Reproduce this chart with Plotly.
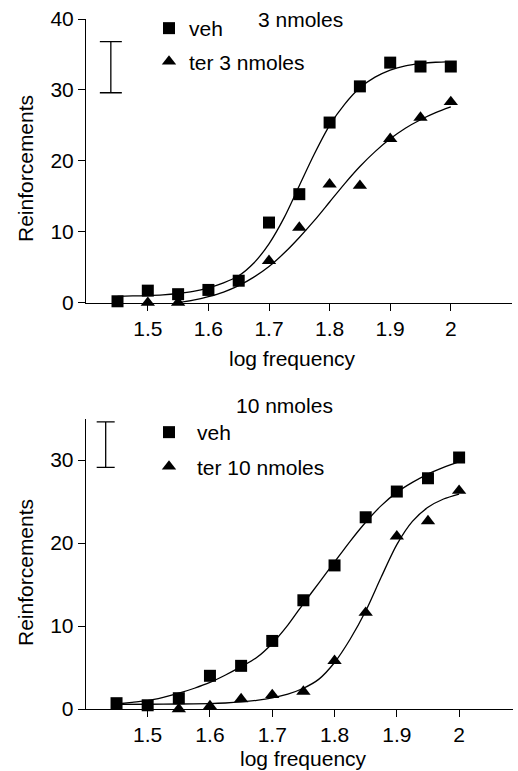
import plotly.graph_objects as go

# ---------------- data ----------------
log_freq = [1.45, 1.5, 1.55, 1.6, 1.65, 1.7, 1.75, 1.8, 1.85, 1.9, 1.95, 2.0]

# panel A (3 nmoles)
a_veh = [0.2, 1.7, 1.2, 1.8, 3.1, 11.3, 15.3, 25.4, 30.5, 33.85, 33.3, 33.3]
a_ter_x = [1.5, 1.55, 1.7, 1.75, 1.8, 1.85, 1.9, 1.95, 2.0]
a_ter = [0.0, 0.0, 5.9, 10.6, 16.7, 16.5, 23.1, 26.1, 28.3]

a_fit_veh_x = [1.45, 1.475, 1.5, 1.525, 1.55, 1.575, 1.6, 1.625, 1.65, 1.675, 1.7, 1.725,
               1.75, 1.775, 1.8, 1.825, 1.85, 1.875, 1.9, 1.925, 1.95, 1.975, 2.0]
a_fit_veh = [0.9, 0.95, 1.0, 1.1, 1.3, 1.6, 2.1, 2.8, 3.8, 5.6, 8.3, 12.0,
             16.5, 21.0, 25.0, 28.0, 30.3, 31.8, 32.8, 33.4, 33.7, 33.9, 34.0]
a_fit_ter_x = [1.55, 1.575, 1.6, 1.625, 1.65, 1.675, 1.7, 1.725, 1.75, 1.775, 1.8,
               1.825, 1.85, 1.875, 1.9, 1.925, 1.95, 1.975, 2.0]
a_fit_ter = [0.0, 0.35, 0.85, 1.5, 2.4, 3.6, 5.1, 7.0, 9.2, 11.6, 14.2,
             16.8, 19.2, 21.3, 23.1, 24.6, 25.8, 26.8, 27.6]
a_err_x = [1.439]
a_err_mid = [33.2]
a_err_half = [3.6]

# panel B (10 nmoles)
b_veh = [0.7, 0.45, 1.3, 4.0, 5.2, 8.2, 13.1, 17.3, 23.1, 26.2, 27.8, 30.3]
b_ter_x = [1.55, 1.6, 1.65, 1.7, 1.75, 1.8, 1.85, 1.9, 1.95, 2.0]
b_ter = [0.0, 0.35, 1.2, 1.7, 2.1, 5.8, 11.6, 20.8, 22.65, 26.3]

b_fit_veh_x = a_fit_veh_x
b_fit_veh = [0.6, 0.8, 1.0, 1.4, 1.9, 2.5, 3.2, 4.1, 5.1, 6.2, 7.9, 10.1,
             12.7, 15.2, 17.7, 20.2, 22.5, 24.5, 26.1, 27.3, 28.3, 29.1, 29.8]
b_fit_ter_x = [1.45, 1.5, 1.55, 1.6, 1.625, 1.65, 1.675, 1.7, 1.725, 1.75, 1.775, 1.8,
               1.825, 1.85, 1.875, 1.9, 1.925, 1.95, 1.975, 2.0]
b_fit_ter = [0.55, 0.57, 0.6, 0.65, 0.72, 0.85, 1.05, 1.35, 1.8, 2.5, 3.6, 5.6,
             8.4, 11.8, 15.9, 19.8, 22.6, 24.3, 25.3, 25.9]
b_err_x = [1.4326]
b_err_mid = [31.85]
b_err_half = [2.75]

x_tickvals = [1.5, 1.6, 1.7, 1.8, 1.9, 2.0]
x_ticktext = ["1.5", "1.6", "1.7", "1.8", "1.9", "2"]
a_yticks = [0, 10, 20, 30, 40]
b_yticks = [0, 10, 20, 30]

# ---------------- figure ----------------
W, H = 518, 771
FONT = "Liberation Sans, Arial, Helvetica, sans-serif"
FS = 21

fig = go.Figure()

def add_panel(xa, ya, legend, fx1, fy1, fx2, fy2, vx, vy, tx, ty, tname, ex, em, eh, ew):
    fig.add_trace(go.Scatter(x=fx1, y=fy1, mode="lines", line=dict(color="black", width=1.3, shape="spline", smoothing=0.8),
                             xaxis=xa, yaxis=ya, showlegend=False, hoverinfo="skip"))
    fig.add_trace(go.Scatter(x=fx2, y=fy2, mode="lines", line=dict(color="black", width=1.3, shape="spline", smoothing=0.8),
                             xaxis=xa, yaxis=ya, showlegend=False, hoverinfo="skip"))
    fig.add_trace(go.Scatter(x=vx, y=vy, mode="markers", name="veh", legendgroup=legend + "a",
                             marker=dict(symbol="square", size=12, color="black"),
                             xaxis=xa, yaxis=ya, legend=legend, cliponaxis=False))
    fig.add_trace(go.Scatter(x=tx, y=ty, mode="markers", name=tname, legendgroup=legend + "b",
                             marker=dict(symbol="triangle-up", size=12.5, color="black"),
                             xaxis=xa, yaxis=ya, legend=legend, cliponaxis=False))
    fig.add_trace(go.Scatter(x=ex, y=em, mode="markers", marker=dict(size=1, opacity=0),
                             error_y=dict(type="data", array=eh, symmetric=True, color="black", thickness=1.3, width=ew),
                             xaxis=xa, yaxis=ya, showlegend=False, hoverinfo="skip"))

add_panel("x", "y", "legend", a_fit_veh_x, a_fit_veh, a_fit_ter_x, a_fit_ter,
          log_freq, a_veh, a_ter_x, a_ter, "ter 3 nmoles", a_err_x, a_err_mid, a_err_half, 11)
add_panel("x2", "y2", "legend2", b_fit_veh_x, b_fit_veh, b_fit_ter_x, b_fit_ter,
          log_freq, b_veh, b_ter_x, b_ter, "ter 10 nmoles", b_err_x, b_err_mid, b_err_half, 9)

axis_common = dict(showline=True, linecolor="black", linewidth=1, ticks="outside", ticklen=7,
                   tickwidth=1, tickcolor="black", showgrid=False, zeroline=False, automargin=False,
                   tickfont=dict(family=FONT, size=FS, color="black"))

fig.update_layout(
    template="none",
    width=W, height=H, margin=dict(l=0, r=0, t=0, b=0, pad=0, autoexpand=False),
    paper_bgcolor="white", plot_bgcolor="white",
    font=dict(family=FONT, size=FS, color="black"),
    xaxis=dict(domain=[86/W, 512/W], range=[1.398, 2.101], tickvals=x_tickvals, ticktext=x_ticktext,
               anchor="y", **axis_common),
    yaxis=dict(domain=[(H-302.7)/H, (H-19)/H], range=[0, 40], tickvals=a_yticks, anchor="x", **axis_common),
    xaxis2=dict(domain=[85.7/W, 513.3/W], range=[1.4005, 2.087], tickvals=x_tickvals, ticktext=x_ticktext,
                anchor="y2", **axis_common),
    yaxis2=dict(domain=[(H-709)/H, (H-418.5)/H], range=[0, 35], tickvals=b_yticks, anchor="x2", **axis_common),
    legend=dict(x=149/W, y=(H-8)/H, xanchor="left", yanchor="top", bgcolor="rgba(0,0,0,0)",
                traceorder="grouped", tracegroupgap=3,
                font=dict(family=FONT, size=FS, color="black")),
    legend2=dict(x=141/W, y=(H-412)/H, xanchor="left", yanchor="top", bgcolor="rgba(0,0,0,0)",
                 traceorder="grouped", tracegroupgap=4,
                 itemwidth=46, font=dict(family=FONT, size=FS, color="black")),
)

def ann(text, px, py, angle=0):
    fig.add_annotation(text=text, x=px/W, y=(H-py)/H, xref="paper", yref="paper", showarrow=False,
                       xanchor="center", yanchor="middle", textangle=angle,
                       font=dict(family=FONT, size=FS, color="black"))

ann("3 nmoles", 300, 19)
ann("10 nmoles", 284, 405)
ann("log frequency", 292.5, 358)
ann("log frequency", 303, 758)
ann("Reinforcements", 25, 169, -90)
ann("Reinforcements", 25, 573, -90)

fig.write_html("out.html", config={"displayModeBar": False},
               post_script="document.body.style.margin='0px';")
